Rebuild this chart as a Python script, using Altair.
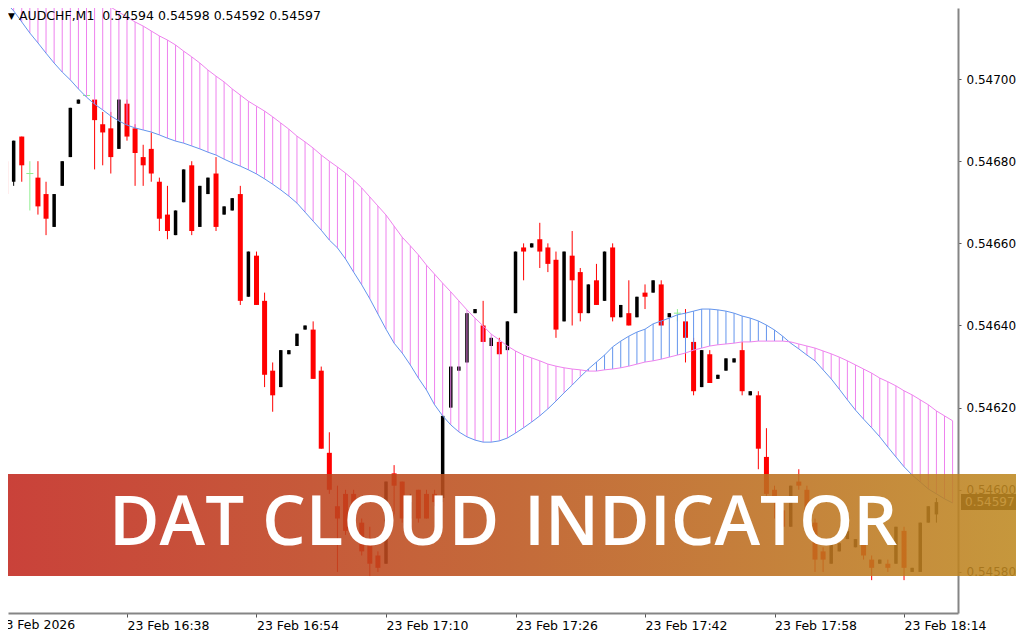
import altair as alt
import pandas as pd

POINT = 1e-5  # all prices below are written in points (units of 0.00001)
SYMBOL = "AUDCHF,M1"
FIRST_BAR = "2026-02-23 16:23"

opens = [54680, 54675, 54686, 54677, 54676, 54672, 54664, 54674, 54681, 54694,
         54696, 54695, 54689, 54688, 54683, 54694, 54688, 54681, 54683, 54675,
         54667, 54662, 54670, 54679, 54664, 54672, 54677, 54667, 54668, 54672,
         54647, 54657, 54646, 54629, 54625, 54633, 54635, 54639, 54639, 54629,
         54609, 54596, 54599, 54599, 54592, 54587, 54584, 54582, 54604, 54602,
         54593, 54600, 54599, 54599, 54598, 54620, 54629, 54631, 54643, 54640,
         54635, 54636, 54634, 54643, 54659, 54659, 54661, 54659, 54656, 54641,
         54657, 54653, 54643, 54651, 54646, 54659, 54642, 54643, 54642, 54648,
         54648, 54650, 54642, 54643, 54641, 54636, 54625, 54633, 54627, 54629,
         54631, 54634, 54623, 54623, 54608, 54600, 54595, 54591, 54602, 54600,
         54592, 54585, 54582, 54585, 54588, 54586, 54587, 54583, 54582, 54582,
         54582, 54590, 54580, 54580, 54592, 54594]
highs = [54683, 54685, 54686, 54680, 54680, 54675, 54672, 54680, 54693, 54695,
         54697, 54695, 54692, 54692, 54695, 54695, 54689, 54684, 54687, 54676,
         54674, 54668, 54678, 54680, 54674, 54676, 54681, 54669, 54671, 54674,
         54658, 54658, 54648, 54631, 54634, 54634, 54638, 54640, 54641, 54630,
         54614, 54601, 54600, 54600, 54593, 54591, 54585, 54602, 54606, 54602,
         54599, 54600, 54600, 54600, 54618, 54630, 54630, 54643, 54644, 54646,
         54637, 54637, 54641, 54658, 54660, 54660, 54665, 54660, 54658, 54658,
         54663, 54654, 54650, 54655, 54658, 54660, 54645, 54651, 54647, 54650,
         54651, 54651, 54643, 54644, 54644, 54637, 54634, 54634, 54628, 54632,
         54632, 54636, 54624, 54624, 54615, 54601, 54596, 54601, 54605, 54601,
         54593, 54586, 54588, 54587, 54590, 54588, 54594, 54584, 54583, 54583,
         54591, 54591, 54581, 54592, 54596, 54598]
lows = [54663, 54674, 54675, 54668, 54667, 54662, 54664, 54674, 54681, 54694,
        54696, 54678, 54679, 54677, 54683, 54685, 54674, 54674, 54675, 54663,
        54661, 54662, 54670, 54662, 54664, 54672, 54663, 54667, 54668, 54645,
        54647, 54645, 54625, 54619, 54625, 54633, 54635, 54639, 54627, 54610,
        54599, 54580, 54589, 54588, 54584, 54579, 54580, 54582, 54594, 54592,
        54591, 54592, 54593, 54596, 54597, 54620, 54629, 54631, 54643, 54636,
        54635, 54633, 54634, 54643, 54651, 54659, 54654, 54653, 54637, 54641,
        54640, 54641, 54643, 54645, 54646, 54641, 54642, 54640, 54642, 54644,
        54648, 54640, 54642, 54641, 54631, 54623, 54625, 54626, 54627, 54629,
        54631, 54623, 54623, 54605, 54598, 54593, 54591, 54591, 54600, 54594,
        54580, 54580, 54582, 54585, 54588, 54586, 54583, 54578, 54582, 54580,
        54582, 54578, 54580, 54580, 54592, 54592]
closes = [54672, 54685, 54679, 54677, 54669, 54666, 54672, 54680, 54693, 54695,
          54696, 54690, 54687, 54681, 54695, 54686, 54682, 54679, 54677, 54666,
          54663, 54668, 54678, 54663, 54674, 54676, 54664, 54669, 54671, 54646,
          54658, 54645, 54628, 54623, 54634, 54634, 54638, 54640, 54627, 54610,
          54600, 54593, 54590, 54593, 54585, 54582, 54581, 54602, 54601, 54593,
          54597, 54593, 54593, 54597, 54618, 54630, 54630, 54643, 54644, 54636,
          54637, 54633, 54641, 54658, 54658, 54660, 54658, 54655, 54639, 54658,
          54651, 54643, 54650, 54645, 54658, 54642, 54645, 54640, 54647, 54647,
          54651, 54640, 54643, 54643, 54637, 54624, 54634, 54626, 54628, 54632,
          54632, 54624, 54624, 54610, 54599, 54598, 54591, 54601, 54601, 54595,
          54583, 54583, 54588, 54587, 54590, 54588, 54584, 54581, 54583, 54581,
          54591, 54581, 54581, 54592, 54596, 54597]

# DAT cloud lines, one value per bar (the cloud runs two bars past the last candle)
blue_line = [54718.7, 54716.6, 54713.9, 54711.2, 54708.8, 54706.3, 54703.9, 54701.7, 54699.8, 54697.6,
             54695.6, 54693.9, 54692.5, 54691.0, 54689.8, 54688.8, 54688.1, 54687.6, 54687.1, 54686.4,
             54685.6, 54684.9, 54684.4, 54683.7, 54683.0, 54682.2, 54681.5, 54680.5, 54679.6, 54678.8,
             54677.9, 54676.9, 54675.7, 54674.4, 54673.0, 54671.5, 54669.8, 54667.6, 54665.4, 54663.2,
             54660.8, 54658.9, 54656.2, 54653.0, 54649.9, 54646.5, 54642.8, 54639.1, 54635.7, 54633.3,
             54630.4, 54627.2, 54624.3, 54620.7, 54618.0, 54615.8, 54614.1, 54612.9, 54612.1, 54611.6,
             54611.6, 54611.9, 54612.6, 54613.8, 54615.1, 54616.5, 54618.0, 54619.7, 54621.6, 54623.6,
             54625.5, 54627.5, 54629.4, 54631.1, 54632.8, 54634.8, 54636.2, 54637.4, 54638.4, 54639.1,
             54640.4, 54641.1, 54641.8, 54642.6, 54643.0, 54643.5, 54644.0, 54644.0, 54643.8, 54643.5,
             54643.0, 54642.3, 54641.8, 54641.1, 54640.1, 54638.9, 54637.4, 54635.7, 54634.3, 54632.8,
             54631.4, 54629.2, 54627.0, 54624.5, 54621.9, 54619.4, 54617.2, 54615.1, 54612.9, 54610.4,
             54608.0, 54605.6, 54603.6, 54601.9, 54600.2, 54599.0, 54597.8, 54596.8]
pink_line = [54732.6, 54731.4, 54730.2, 54729.0, 54727.7, 54726.5, 54725.6, 54724.3, 54723.1, 54722.1,
             54721.2, 54720.0, 54718.7, 54717.5, 54716.3, 54715.1, 54713.9, 54712.9, 54711.7, 54710.5,
             54709.5, 54708.3, 54706.8, 54705.4, 54703.9, 54702.2, 54700.7, 54699.3, 54697.6, 54696.1,
             54694.6, 54693.4, 54692.2, 54690.8, 54689.3, 54687.8, 54686.1, 54684.7, 54683.2, 54681.5,
             54680.0, 54678.6, 54677.1, 54675.4, 54673.5, 54671.3, 54669.1, 54666.9, 54664.2, 54661.5,
             54659.4, 54657.2, 54654.7, 54652.5, 54650.3, 54648.2, 54646.0, 54643.8, 54641.8, 54639.9,
             54637.9, 54636.5, 54635.0, 54633.8, 54632.8, 54632.1, 54631.4, 54630.6, 54630.1, 54629.7,
             54629.4, 54629.2, 54628.9, 54628.9, 54629.2, 54629.4, 54629.7, 54630.1, 54630.6, 54631.1,
             54631.4, 54631.8, 54632.3, 54632.8, 54633.3, 54634.0, 54634.5, 54635.0, 54635.3, 54635.5,
             54635.7, 54636.0, 54636.0, 54636.2, 54636.2, 54636.2, 54636.2, 54636.0, 54635.5, 54635.0,
             54634.5, 54633.8, 54633.1, 54632.3, 54631.4, 54630.4, 54629.4, 54628.4, 54627.2, 54626.3,
             54625.3, 54624.1, 54623.1, 54621.9, 54620.7, 54619.2, 54618.0, 54616.8]

price_ticks = [0.5458, 0.5460, 0.5462, 0.5464, 0.5466, 0.5468, 0.5470]
time_ticks = ["16:38", "16:54", "17:10", "17:26", "17:42", "17:58", "18:14"]
date_label_time = "2026-02-23T16:22:00"
date_label = "23 Feb 2026"
banner_words = ["DAT", "CLOUD", "INDICATOR"]

assert len(opens) == len(highs) == len(lows) == len(closes)
assert len(blue_line) == len(pink_line)

candles = pd.DataFrame({
    "t": pd.date_range(FIRST_BAR, periods=len(opens), freq="min").strftime("%Y-%m-%dT%H:%M:%S"),
    "open": [v * POINT for v in opens],
    "high": [v * POINT for v in highs],
    "low": [v * POINT for v in lows],
    "close": [v * POINT for v in closes],
})
cloud = pd.DataFrame({
    "t": pd.date_range(FIRST_BAR, periods=len(blue_line), freq="min").strftime("%Y-%m-%dT%H:%M:%S"),
    "blue": [v * POINT for v in blue_line],
    "pink": [v * POINT for v in pink_line],
})
last = candles.iloc[-1]
title_text = f"{SYMBOL}\u00a0\u00a0{last.open:.5f} {last.high:.5f} {last.low:.5f} {last.close:.5f}"


def dt(h, m, s=0):
    return alt.DateTime(year=2026, month=2, date=23, hours=h, minutes=m, seconds=s)


x_scale = alt.Scale(domain=[dt(16, 23, 18), dt(18, 20, 40)])
y_scale = alt.Scale(domain=[0.545700, 0.547173], nice=False, zero=False)

FONT = "DejaVu Sans"
RED, BLACK, GREEN = "#FF0000", "#000000", "#90EE90"
VIOLET, CORNFLOWER = "#EE82EE", "#6495ED"

x_axis = alt.Axis(values=[dt(int(s[:2]), int(s[3:])) for s in time_ticks],
                  format="%d %b %H:%M", formatType="time", labelAlign="left",
                  labelFont=FONT, labelFontSize=12.5, labelColor="#000000",
                  tickSize=4, tickColor="#555555", domainColor="#858585", domainWidth=2,
                  labelPadding=2, grid=False, title=None, labelOverlap=False,
                  labelFlush=False, labelBound=False)
y_axis = alt.Axis(orient="right", values=price_ticks, format=".5f",
                  labelFont=FONT, labelFontSize=12, labelColor="#000000",
                  tickSize=3, tickColor="#555555", domainColor="#858585", domainWidth=2,
                  labelPadding=5, grid=False, title=None, labelOverlap=False)


def X(field="t"):
    return alt.X(f"{field}:T", scale=x_scale, axis=x_axis, title=None)


def Y(field):
    return alt.Y(f"{field}:Q", scale=y_scale, axis=y_axis, title=None)


dir_expr = "datum.close > datum.open ? 'up' : (datum.close < datum.open ? 'down' : 'flat')"
base = alt.Chart(candles).transform_calculate(dir=dir_expr)


def wick(d, col):
    return base.transform_filter(f"datum.dir == '{d}'").mark_rule(
        strokeWidth=1, color=col, clip=True).encode(x=X(), y=Y("low"), y2="high:Q")


def body(d, col, w):
    return base.transform_filter(f"datum.dir == '{d}'").mark_rule(
        strokeWidth=w, color=col, clip=True).encode(x=X(), y=Y("open"), y2="close:Q")


doji = base.transform_filter("datum.dir == 'flat'").mark_rule(
    strokeWidth=1, color=GREEN, xOffset=-3.5, x2Offset=3.5, clip=True).encode(
    x=X(), x2="t:T", y=Y("open"))

cloud_base = alt.Chart(cloud).transform_calculate(side="datum.pink >= datum.blue ? 'p' : 'b'")


def hatch(side, col):
    return cloud_base.transform_filter(f"datum.side == '{side}'").mark_rule(
        strokeWidth=1, color=col, clip=True).encode(x=X(), y=Y("blue"), y2="pink:Q")


blue_l = cloud_base.mark_line(strokeWidth=1, color=CORNFLOWER, clip=True).encode(x=X(), y=Y("blue"))
pink_l = cloud_base.mark_line(strokeWidth=1, color=VIOLET, clip=True).encode(x=X(), y=Y("pink"))

price_df = pd.DataFrame({"p": [last.close]})
price_box = alt.Chart(price_df).mark_rect(color="#000000", yOffset=-8, y2Offset=8, clip=False).encode(
    x=alt.value(953), x2=alt.value(1016), y=Y("p"), y2="p:Q")
price_txt = alt.Chart(price_df).mark_text(align="left", baseline="middle", color="#FFFFFF",
                                          font=FONT, fontSize=12, clip=False).encode(
    x=alt.value(957), y=Y("p"), text=alt.Text("p:Q", format=".5f"))

date_df = pd.DataFrame({"t": [date_label_time], "label": [date_label]})
date_txt = alt.Chart(date_df).mark_text(align="left", baseline="top", color="#000000",
                                        font=FONT, fontSize=12.5, clip=False).encode(
    x=X(), y=alt.value(611), text="label:N")

one = alt.Data(values=[{}])
banner = alt.Chart(one).mark_rect(
    fill=alt.Gradient(gradient="linear", x1=0, x2=1, y1=0, y2=0,
                      stops=[alt.GradientStop(offset=0, color="#C2271F"),
                             alt.GradientStop(offset=0.5, color="#BC561F"),
                             alt.GradientStop(offset=1, color="#BE8A22")]),
    opacity=0.88, clip=False).encode(
    x=alt.value(-8), x2=alt.value(1016), y=alt.value(466), y2=alt.value(568))

word_x = [101, 254, 516]
words = [alt.Chart(one).mark_text(text=w, align="left", baseline="alphabetic", color="#FFFFFF",
                                  font="Open Sans", fontSize=69, fontWeight=600, clip=False).encode(
    x=alt.value(px), y=alt.value(537)) for w, px in zip(banner_words, word_x)]

tri = alt.Chart(one).mark_text(text="\u25BC", align="left", baseline="alphabetic", color="#000000",
                               font=FONT, fontSize=9, clip=False).encode(x=alt.value(0), y=alt.value(11))
title = alt.Chart(one).mark_text(text=title_text, align="left", baseline="alphabetic", color="#000000",
                                 font=FONT, fontSize=12.5, clip=False).encode(x=alt.value(11), y=alt.value(11.5))

chart = alt.layer(
    wick("down", RED), wick("up", BLACK), wick("flat", GREEN),
    body("down", RED, 5), body("up", BLACK, 3.5), doji,
    hatch("p", VIOLET), hatch("b", CORNFLOWER), blue_l, pink_l,
    price_box, price_txt, date_txt, banner, *words, tri, title
).properties(
    width=950, height=605,
    padding={"left": 0, "top": 0, "right": 58, "bottom": 19},
    autosize=alt.AutoSizeParams(type="none"),
    background="#FFFFFF",
).configure_view(stroke=None)

chart.save("out.html", embed_options={"renderer": "svg", "actions": False})
